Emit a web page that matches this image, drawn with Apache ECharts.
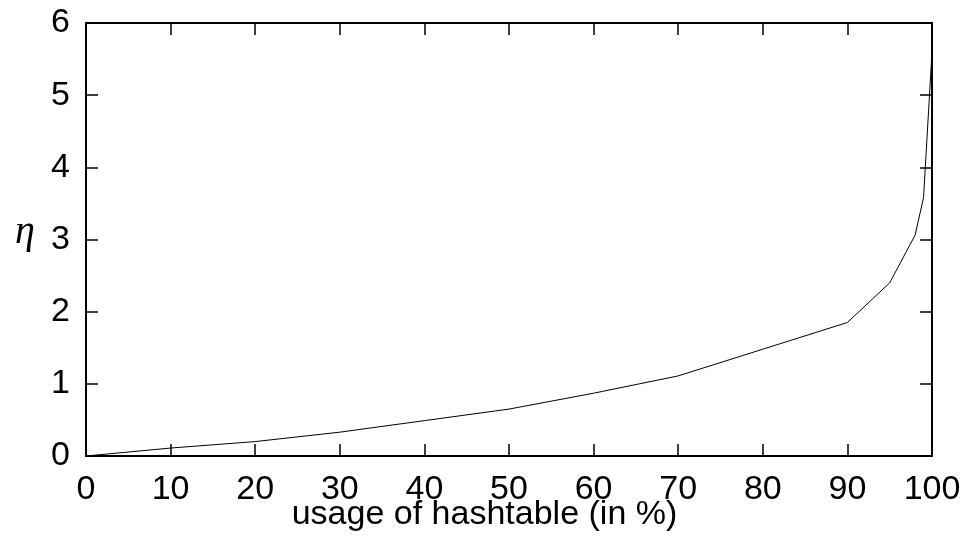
<!DOCTYPE HTML>
<html>
<head>
    <title>hashtable usage</title>
    <script src="https://cdn.jsdelivr.net/npm/echarts@6.0.0/dist/echarts.min.js"></script>
</head>
<body style="margin:0;">

<div id="main" style="width: 969px;height: 544px;"></div>

<script type="text/javascript">

    // usage of hashtable (%) and eta
    var usage = [0, 10, 20, 30, 40, 50, 60, 70, 80, 90, 95, 98, 99, 100];
    var eta = [0, 0.11, 0.2, 0.33, 0.49, 0.65, 0.87, 1.11, 1.48, 1.85, 2.4, 3.06, 3.58, 5.6];

    var points = [];
    for (var i = 0; i < usage.length; i++) {
        points.push([usage[i], eta[i]]);
    }

    var font = 'Liberation Sans, Arial, sans-serif';

    var chartDom = document.getElementById('main');
    var myChart = echarts.init(chartDom);

    var tickStyle = { show: true, inside: true, length: 12, lineStyle: { color: '#000', width: 1.5 } };
    var lineStyle = { show: true, onZero: false, lineStyle: { color: '#000', width: 2 } };

    var option = {
        animation: false,
        backgroundColor: '#fff',
        title: {
            text: 'usage of hashtable (in %)',
            left: 'center',
            top: 498,
            padding: 0,
            textStyle: { fontFamily: font, fontSize: 34, fontWeight: 'normal', color: '#000' }
        },
        graphic: [
            {
                type: 'text',
                left: 15,
                top: 212,
                style: {
                    text: 'η',
                    font: 'italic 40px "Liberation Serif", "DejaVu Serif", serif',
                    fill: '#000'
                }
            }
        ],
        grid: {
            left: 86,
            right: 37,
            top: 23,
            bottom: 88
        },
        xAxis: [
            {
                type: 'value',
                min: 0,
                max: 100,
                interval: 10,
                axisLine: lineStyle,
                axisTick: tickStyle,
                splitLine: { show: false },
                axisLabel: { fontFamily: font, fontSize: 34, color: '#000', margin: 17 }
            },
            {
                type: 'value',
                position: 'top',
                min: 0,
                max: 100,
                interval: 10,
                axisLine: lineStyle,
                axisTick: tickStyle,
                splitLine: { show: false },
                axisLabel: { show: false }
            }
        ],
        yAxis: [
            {
                type: 'value',
                min: 0,
                max: 6,
                interval: 1,
                axisLine: lineStyle,
                axisTick: tickStyle,
                splitLine: { show: false },
                axisLabel: { fontFamily: font, fontSize: 34, color: '#000', margin: 16 }
            },
            {
                type: 'value',
                position: 'right',
                min: 0,
                max: 6,
                interval: 1,
                axisLine: lineStyle,
                axisTick: tickStyle,
                splitLine: { show: false },
                axisLabel: { show: false }
            }
        ],
        series: [
            {
                type: 'line',
                data: points,
                showSymbol: false,
                lineStyle: { color: '#000', width: 1 }
            }
        ]
    };

    myChart.setOption(option);

</script>

</body>
</html>
